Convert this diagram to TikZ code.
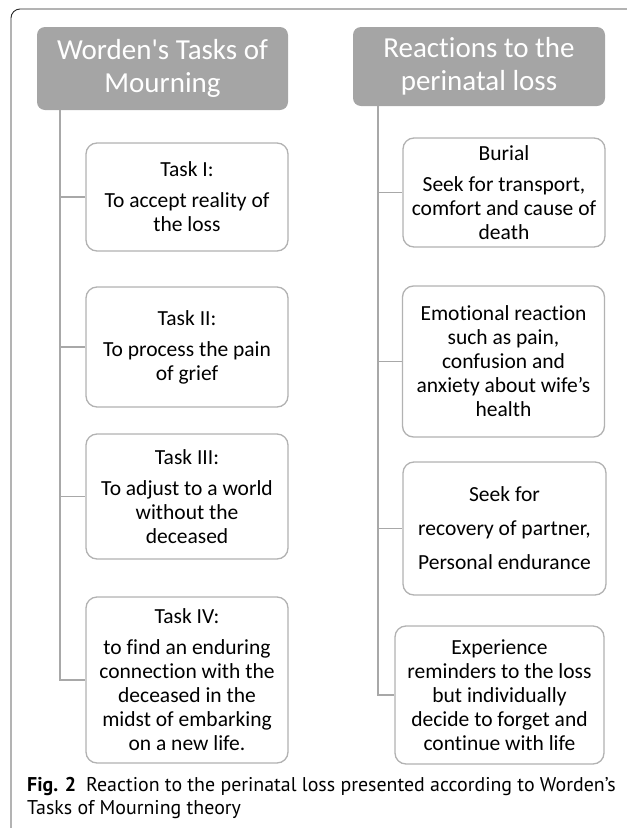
\documentclass[tikz,border=0pt]{standalone}
\usepackage{fontspec}
\setmainfont{Carlito}[Ligatures={TeX,NoCommon}]
\newfontfamily\capfont{PT Sans}
\definecolor{hdrgray}{RGB}{165,165,165}
\definecolor{linegray}{RGB}{168,168,168}
\definecolor{boxgray}{RGB}{178,178,178}
\definecolor{framegray}{RGB}{40,40,40}

\begin{document}
\begin{tikzpicture}[x=1pt, y=-1pt,
	header/.style={rectangle, rounded corners=8pt, fill=hdrgray, text=white, align=center,
		inner sep=0pt, font=\fontsize{29}{33}\selectfont},
	taskbox/.style={rectangle, rounded corners=11pt, draw=boxgray, line width=1.3pt, fill=white,
		align=center, inner sep=0pt, font=\fontsize{21.5}{24}\selectfont},
	branch/.style={draw=linegray, line width=1.5pt},
	caption/.style={anchor=base west, inner sep=0pt, font=\capfont\fontsize{19.9}{23}\selectfont}]
	\useasboundingbox (0,0) rectangle (627,828);
	% outer frame
	\draw[framegray, line width=0.9pt, rounded corners=9pt] (11,840) -- (11,9) -- (640,9);

	% column headers
	\node[header, minimum width=251pt, minimum height=83pt] (h1) at (162.5,68.5) {Worden\textquotesingle s Tasks of\\Mourning};
	\node[header, minimum width=252pt, minimum height=79pt] (h2) at (479,66.5) {Reactions to the\\perinatal loss};

	% Worden's tasks
	\node[taskbox, minimum width=202pt, minimum height=108pt] (t1) at (187,197) {Task I:\\[7pt]To accept reality of\\the loss};
	\node[taskbox, minimum width=202pt, minimum height=120pt] (t2) at (187,347) {Task II:\\[7pt]To process the pain\\of grief};
	\node[taskbox, minimum width=202pt, minimum height=125pt] (t3) at (187,496.5) {Task III:\\[7pt]To adjust to a world\\without the\\deceased};
	\node[taskbox, minimum width=202pt, minimum height=166pt] (t4) at (187,680) {Task IV:\\[7pt]to find an enduring\\connection with the\\deceased in the\\midst of embarking\\on a new life.};

	% reactions
	\node[taskbox, minimum width=202pt, minimum height=109pt] (r1) at (504,192.5) {Burial\\[7pt]Seek for transport,\\comfort and cause of\\death};
	\node[taskbox, minimum width=202pt, minimum height=151pt] (r2) at (503.5,361.5) {Emotional reaction\\such as pain,\\confusion and\\anxiety about wife’s\\health};
	\node[taskbox, minimum width=203pt, minimum height=133pt] (r3) at (504.5,528.5) {Seek for\\[10pt]recovery of partner,\\[10pt]Personal endurance};
	\node[taskbox, minimum width=209pt, minimum height=138pt] (r4) at (499.5,695) {Experience\\reminders to the loss\\but individually\\decide to forget and\\continue with life};

	% trunks and branches
	\coordinate (lt) at (60,0);
	\coordinate (rt) at (378,0);
	\draw[branch] (h1.south -| lt) |- (t4.west);
	\draw[branch] (h2.south -| rt) |- (r4.west);
	\foreach \n in {t1,t2,t3} \draw[branch] (lt |- \n.west) -- (\n.west);
	\foreach \n in {r1,r2,r3} \draw[branch] (rt |- \n.west) -- (\n.west);

	% caption
	\node[caption] (c1) at (27,791) {\textbf{Fig. 2}\enspace Reaction to the perinatal loss presented according to Worden’s};
	\node[caption] (c2) at (27,814) {Tasks of Mourning theory};
\end{tikzpicture}
\end{document}
